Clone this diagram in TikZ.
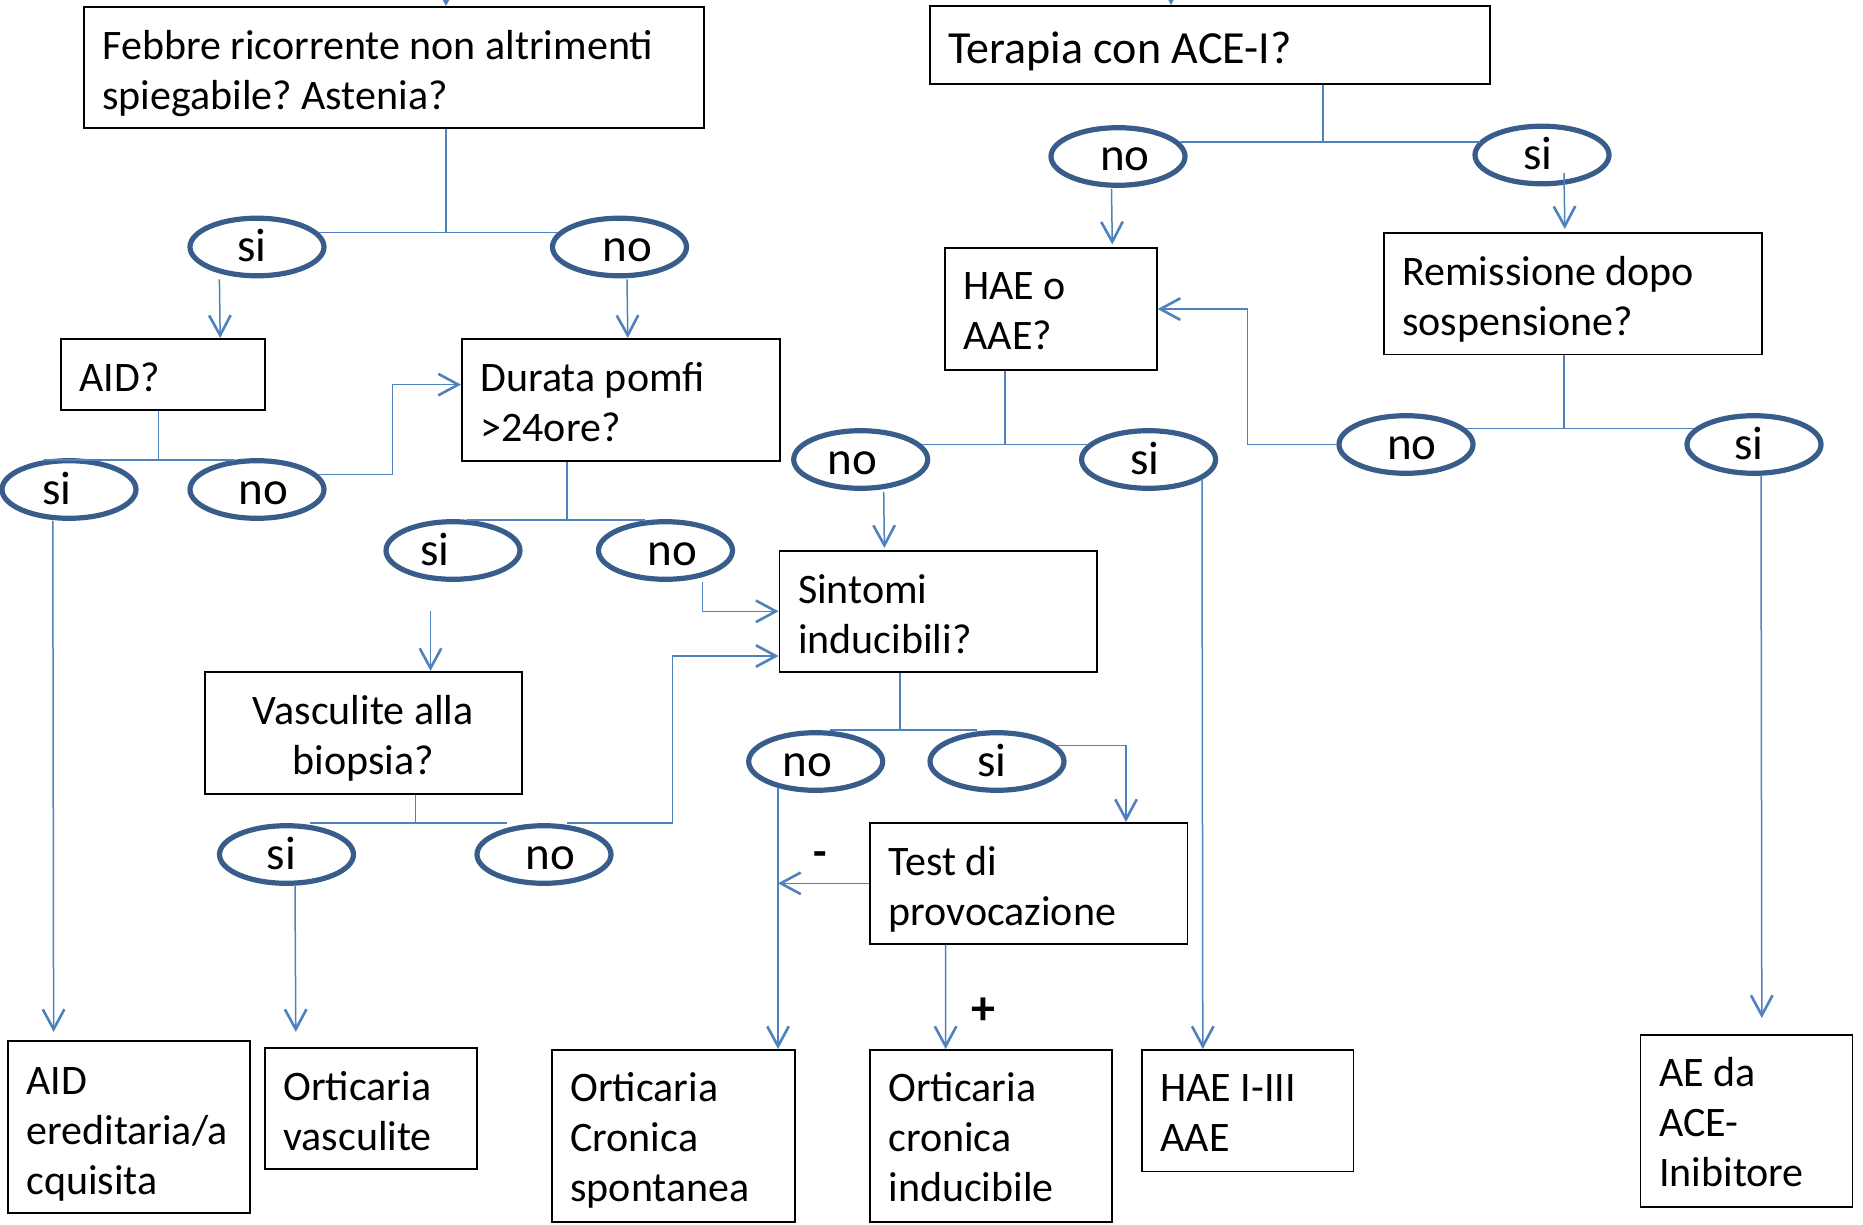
\documentclass[tikz,border=0pt]{standalone}
\usepackage{fontspec}
\setmainfont{Carlito}
\usetikzlibrary{shapes.geometric,arrows.meta,calc}
\definecolor{lnc}{HTML}{4F81BD}
\definecolor{ovalc}{HTML}{385D8A}
\newcommand\btfont{\fontsize{21pt}{25pt}\selectfont}
\newcommand\tfont{\fontsize{23pt}{27pt}\selectfont}
\newcommand\ofont{\fontsize{23.5pt}{28pt}\selectfont}
\newcommand\sgfont{\fontsize{22pt}{26pt}\selectfont\bfseries}
\newcommand\pgfont{\fontsize{24pt}{28pt}\selectfont\bfseries}
\newcommand\osh[2]{\makebox[0pt]{\hspace*{#1pt}#2}}
\frenchspacing
\begin{document}
\begin{tikzpicture}[x=0.5pt,y=-0.5pt,
  box/.style={draw=black, line width=0.8pt, inner sep=0pt, anchor=north west},
  btxt/.style={anchor=north west, inner sep=0pt, align=left, font=\btfont, xshift=9.5pt, yshift=-0.4pt},
  ctxt/.style={anchor=north, inner sep=0pt, align=center, font=\btfont, yshift=-0.4pt},
  oval/.style={ellipse, draw=ovalc, line width=2.6pt, minimum width=67pt, minimum height=28.8pt,
               inner sep=0pt, font=\ofont, text height=14.5pt, text depth=0pt},
  sign/.style={inner sep=0pt, anchor=base, font=\sgfont},
  ln/.style={draw=lnc, line width=0.75pt},
  arr/.style={ln, -{Straight Barb[length=10pt,width=10.8pt,line width=1.3pt]}}]
\useasboundingbox (0,0) rectangle (1863,1225);

% ---------------- boxes ----------------
\node[box, minimum width=310pt, minimum height=60.5pt,
  label={[btxt]north west:{\rule{0pt}{26pt}Febbre ricorrente non altrimenti\\spiegabile? Astenia?}}] (febbre) at (83,6) {};
\node[box, minimum width=280pt, minimum height=39pt,
  label={[btxt,font=\tfont]north west:{\rule{0pt}{28.75pt}Terapia con ACE-I?}}] (terapia) at (929,5) {};
\node[box, minimum width=102pt, minimum height=35.5pt,
  label={[btxt]north west:{\rule{0pt}{26pt}AID?}}] (aid) at (60,338) {};
\node[box, minimum width=159pt, minimum height=61pt,
  label={[btxt]north west:{\rule{0pt}{26pt}Durata pomfi\\>24ore?}}] (durata) at (461,338) {};
\node[box, minimum width=106pt, minimum height=60.75pt,
  label={[btxt]north west:{\rule{0pt}{25.5pt}HAE o\\AAE?}}] (hae) at (944,247.5) {};
\node[box, minimum width=189pt, minimum height=60.75pt,
  label={[btxt]north west:{\rule{0pt}{26pt}Remissione dopo\\sospensione?}}] (remiss) at (1383,232) {};
\node[box, minimum width=158.75pt, minimum height=60.5pt,
  label={[btxt]north west:{\rule{0pt}{26pt}Sintomi\\inducibili?}}] (sintomi) at (778.6,550) {};
\node[box, minimum width=158.5pt, minimum height=61pt,
  label={[ctxt]north:{\rule{0pt}{26pt}Vasculite alla\\biopsia?}}] (vasc) at (204,671) {};
\node[box, minimum width=158.8pt, minimum height=60.5pt,
  label={[btxt]north west:{\rule{0pt}{26pt}Test di\\provocazione}}] (test) at (869,822) {};
\node[box, minimum width=121pt, minimum height=86pt,
  label={[btxt]north west:{\rule{0pt}{26.5pt}AID\\ereditaria/a\\cquisita}}] (aider) at (7,1040) {};
\node[box, minimum width=106pt, minimum height=60.5pt,
  label={[btxt]north west:{\rule{0pt}{26pt}Orticaria\\vasculite}}] (ortvasc) at (264,1047) {};
\node[box, minimum width=121.5pt, minimum height=86pt,
  label={[btxt]north west:{\rule{0pt}{25.5pt}Orticaria\\Cronica\\spontanea}}] (ocs) at (551,1049) {};
\node[box, minimum width=121pt, minimum height=86pt,
  label={[btxt]north west:{\rule{0pt}{25.5pt}Orticaria\\cronica\\inducibile}}] (oci) at (869,1049) {};
\node[box, minimum width=105.85pt, minimum height=60.75pt,
  label={[btxt]north west:{\rule{0pt}{25.5pt}HAE I-III\\AAE}}] (haeiii) at (1141,1049) {};
\node[box, minimum width=106pt, minimum height=86pt,
  label={[btxt]north west:{\rule{0pt}{25.5pt}AE da\\ACE-\\Inibitore}}] (ae) at (1639.7,1034) {};

% ---------------- ellipses ----------------
\node[oval] (e1si) at (257,247) {\osh{-5}{si}};
\node[oval] (e1no) at (619.5,247) {\osh{8}{no}};
\node[oval] (aidsi) at (69,489.5) {\osh{-12}{si}};
\node[oval] (aidno) at (257,489.5) {\osh{6.5}{no}};
\node[oval] (dursi) at (453,550.5) {\osh{-18}{si}};
\node[oval] (durno) at (665.5,550.5) {\osh{7}{no}};
\node[oval] (vassi) at (286.5,854.5) {\osh{-5}{si}};
\node[oval] (vasno) at (544,854.5) {\osh{6.5}{no}};
\node[oval] (sinno) at (815.7,761.5) {\osh{-8}{no}};
\node[oval] (sinsi) at (997,761.5) {\osh{-5}{si}};
\node[oval] (terno) at (1118,156.5) {\osh{7}{no}};
\node[oval] (tersi) at (1542,155) {\osh{-4}{si}};
\node[oval] (haeno) at (860.7,459.5) {\osh{-8}{no}};
\node[oval] (haesi) at (1148.6,459.5) {\osh{-4}{si}};
\node[oval] (remno) at (1406,444.5) {\osh{6}{no}};
\node[oval] (remsi) at (1754,444.5) {\osh{-5}{si}};

% ---------------- signs ----------------
\node[sign] (minus) at (820,866) {-};
\node[sign, font=\pgfont] (plus) at (983.5,1024) {+};

% ---------------- helper coordinates ----------------
\coordinate (ftop) at (446,-30);
\coordinate (ttop) at (1171,-30);
\coordinate (xa) at (158.7,0);
\coordinate (b6) at (392.5,384.6);
\coordinate (xd) at (567,0);
\coordinate (s8) at (430.5,611);
\coordinate (b9) at (702.6,611);
\coordinate (xv) at (415.6,0);
\coordinate (b11) at (672.7,656);
\coordinate (xs) at (900,0);
\coordinate (b13) at (1126,0);
\coordinate (xt) at (1323,0);
\coordinate (xh) at (1005,0);
\coordinate (xr) at (1564,0);
\coordinate (b25) at (1247.6,0);

% ---------------- connectors ----------------
% Febbre
\draw[arr] (ftop) -- (ftop |- febbre.north);
\draw[ln] (ftop |- febbre.south) -- (ftop |- e1si.13);
\draw[ln] (e1si.13) -- (e1si.13 -| e1no.167);
\draw[arr] ($(e1si.south)+(-37.6,1)$) -- ($(aid.north)+(57.4,0)$);
\draw[arr] ($(e1no.south)+(7.5,1)$) -- ($(durata.north)+(7,0)$);
% AID
\draw[ln] (xa |- aid.south) -- (xa |- aidsi.130);
\draw[ln] (aidsi.130) -- (aidsi.130 -| aidno.128);
\draw[arr] (aidno.14) -| (b6) -- (b6 -| durata.west);
\draw[arr] ($(aidsi.south)+(-16.2,0)$) -- ($(aider.north)+(-75.2,-8)$);
% Durata
\draw[ln] (xd |- durata.south) -- (xd |- dursi.65);
\draw[ln] (dursi.65) -- (dursi.65 -| durno.125);
\draw[arr] (s8) -- (s8 |- vasc.north);
\draw[arr] (b9 |- durno.south) |- (sintomi.west);
% Vasculite
\draw[ln] (xv |- vasc.south) -- (xv |- vassi.north);
\draw[ln] ($(vassi.north)+(23.5,0)$) -- ($(vasno.north)+(-37,0)$);
\draw[arr] ($(vasno.north)+(22.7,0)$) -| (b11) -- (b11 -| sintomi.west);
\draw[arr] ($(vassi.south)+(8.5,0)$) -- ($(ortvasc.north)+(-75,-15)$);
% Sintomi
\draw[ln] (xs |- sintomi.south) -- (xs |- sinno.north);
\draw[ln] ($(sinno.north)+(14,0)$) -- ($(sinsi.north)+(-20,0)$);
\draw[arr] (sinsi.15) -| (b13 |- test.north);
\draw[arr] (sinno.215) -- (sinno.215 |- ocs.north);
\draw[arr] (test.west) -- (test.west -| sinno.215);
\draw[arr] ($(test.south)+(-83,0)$) -- ($(oci.north)+(-45.2,0)$);
% Terapia
\draw[arr] (ttop) -- (ttop |- terapia.north);
\draw[ln] (xt |- terapia.south) -- (xt |- terno.13);
\draw[ln] (terno.13) -- (terno.13 -| tersi.167);
\draw[arr] ($(terno.south)+(-6.5,1)$) -- ($(hae.north)+(61.5,-3)$);
\draw[arr] ($(tersi.center)+(22,18)$) -- ($(remiss.north)+(-8,-3)$);
% HAE
\draw[ln] (xh |- hae.south) -- (xh |- haeno.14);
\draw[ln] (haeno.14) -- (haeno.14 -| haesi.166);
\draw[arr] ($(haeno.south)+(23,1)$) -- ($(sintomi.north)+(-53.75,-2)$);
\draw[arr] ($(haesi.center)+(53.4,20.5)$) -- ($(haeiii.north)+(-44.85,0)$);
% Remissione
\draw[ln] (xr |- remiss.south) -- (xr |- remno.15);
\draw[ln] (remno.15) -- (remno.15 -| remsi.165);
\draw[arr] (remno.west) -| (b25 |- hae.east) -- (hae.east);
\draw[arr] ($(remsi.south)+(7,0)$) -- ($(ae.north)+(15.3,-16)$);
\end{tikzpicture}
\end{document}
